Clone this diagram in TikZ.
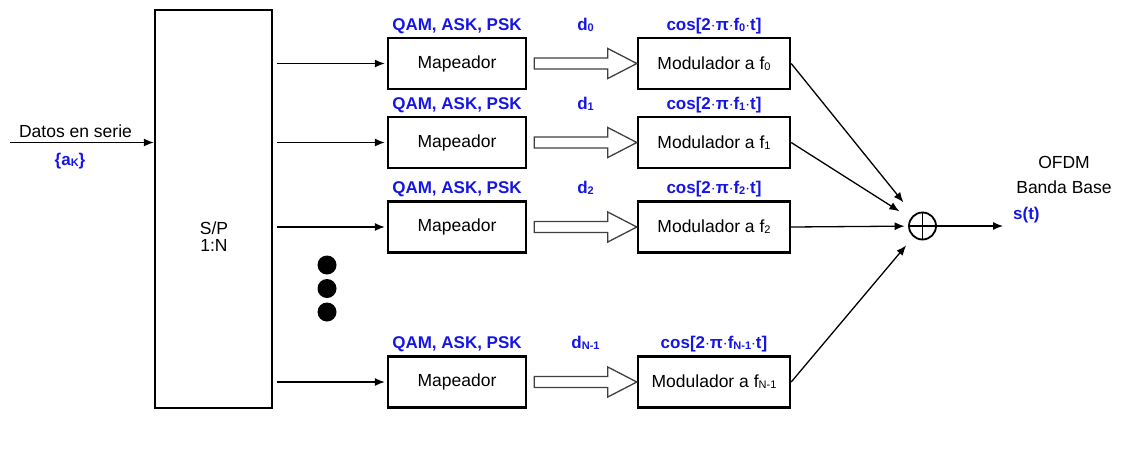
\documentclass[tikz,border=0pt]{standalone}
\usepackage{fontspec}
\setmainfont{Liberation Sans}
\usetikzlibrary{arrows.meta,calc}
\definecolor{lblblue}{RGB}{22,22,228}
% small index (subscript-like) as printed in the figure
\newcommand{\idx}[1]{{\fontsize{11}{11}\selectfont\raisebox{-1pt}{#1}}}
\newcommand{\txtfont}{\fontsize{17.5}{20}\selectfont}
\newcommand{\lblfont}{\fontsize{17}{19}\selectfont\bfseries}
\begin{document}
\begin{tikzpicture}[x=1pt,y=-1pt,
  box/.style={draw, line width=2.4pt, minimum height=51pt, inner sep=0pt, font=\txtfont},
  mapbox/.style={box, minimum width=138pt},
  modbox/.style={box, minimum width=152pt},
  conn/.style={line width=1.3pt, -{Latex[length=10pt,width=8pt]}},
  lbl/.style={font=\lblfont, text=lblblue, anchor=base, inner sep=0pt},
  txt/.style={font=\txtfont, anchor=base, inner sep=0pt},
  hollow/.style={draw=black!75, line width=1.3pt, fill=white, line join=miter},
  dot/.style={circle, fill=black, minimum size=19pt, inner sep=0pt}]
\useasboundingbox (0,0) rectangle (1121,461);

% serial-to-parallel converter
\node[box, minimum width=117pt, minimum height=398pt] (sp) at (213.5,209) {};
\node[txt] (spa) at (214,234) {S/P};
\node[txt] (spb) at (214,251) {1:N};

% serial input
\coordinate (in) at (10,142.5);
\draw[conn] (in) -- (sp.west |- in);
\node[txt] (datos) at (75.5,137) {Datos en serie};
\node[lbl] (ak) at (70,165) {\{a\idx{K}\}};

% mapper and modulator branches
\foreach \i/\y/\s in {0/63.5/0, 1/142.5/1, 2/227/2, 3/382/{N-1}} {
  \node[mapbox] (m\i) at (457,\y) {Mapeador};
  \node[modbox] (f\i) at (714,\y) {Modulador a f\idx{\s}};
  \node[lbl] (q\i) at ($(m\i.north)+(0,-6.5)$) {QAM, ASK, PSK};
  \node[lbl] (d\i) at ($(m\i.north)!0.5!(f\i.north)+(0,-6.5)$) {d\idx{\s}};
  \node[lbl] (c\i) at ($(f\i.north)+(0,-6.5)$) {cos[2$\cdot$\char"03C0$\cdot$f\idx{\s}$\cdot$t]};
  \draw[conn, shorten <=4pt, shorten >=2pt] (sp.east |- m\i) -- (m\i.west);
  \draw[hollow] ($(m\i.east)+(7,-5.5)$) -- ($(f\i.west)+(-29,-5.5)$)
     -- ($(f\i.west)+(-29,-15)$) -- (f\i.west) -- ($(f\i.west)+(-29,15)$)
     -- ($(f\i.west)+(-29,5.5)$) -- ($(m\i.east)+(7,5.5)$) -- cycle;
}

% ellipsis between branches
\node[dot] (e1) at (327,265) {};
\node[dot] (e2) at (327,288.5) {};
\node[dot] (e3) at (327,312) {};

% summing junction
\node[draw, circle, line width=1.8pt, minimum size=27pt, inner sep=0pt] (sum) at (922.5,226) {};
\draw[line width=1.2pt] (sum.north) -- (sum.south) (sum.west) -- (sum.east);
\draw[conn, shorten >=16pt] (f0.east) -- (sum);
\draw[conn, shorten >=13pt] (f1.east) -- (sum);
\draw[conn, shorten >=3.5pt] (f2.east) -- (sum);
\draw[conn, shorten >=11pt] (f3.east) -- (sum);

% output
\coordinate (out) at (1003,226);
\draw[conn] (sum.east) -- (out);
\node[txt] (ofdm) at (1064,168) {OFDM};
\node[txt] (bb) at (1064,193) {Banda Base};
\node[lbl, anchor=base west] (st) at (1013,219) {s(t)};
\end{tikzpicture}
\end{document}
